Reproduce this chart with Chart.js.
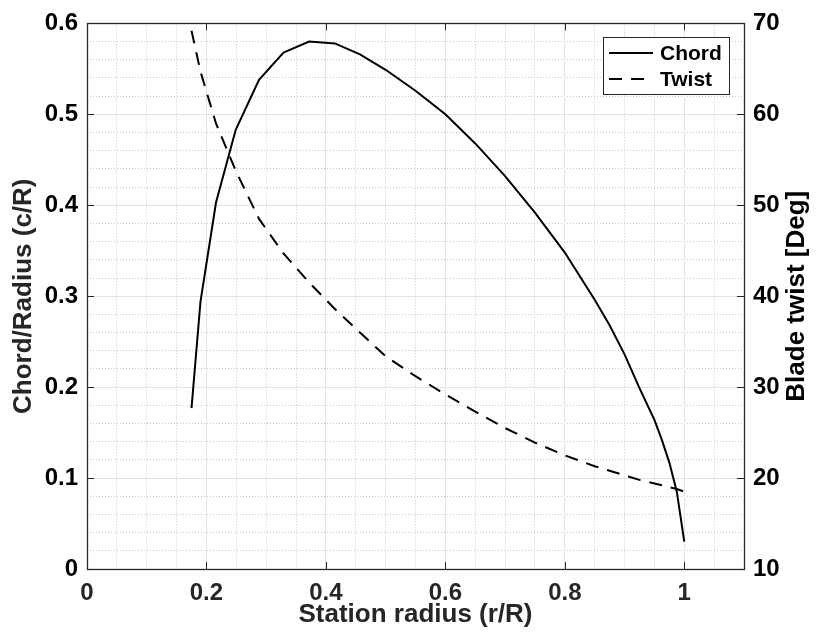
<!DOCTYPE html>
<html>
<head>
<meta charset="utf-8">
<script src="https://cdn.jsdelivr.net/npm/chart.js@4/dist/chart.umd.min.js"></script>
<style>
  html, body { margin: 0; padding: 0; background: #ffffff; }
  #wrap { width: 816px; height: 644px; }
</style>
</head>
<body>
<div id="wrap"><canvas id="c" width="816" height="644"></canvas></div>
<script>
// ---- data ----
const stationRadius = [0.175, 0.19, 0.216, 0.249, 0.288, 0.329, 0.372, 0.415, 0.457, 0.5, 0.55, 0.6, 0.65, 0.7, 0.75, 0.8, 0.85, 0.875, 0.9, 0.925, 0.95, 0.9625, 0.975, 0.9875, 1.0];
const chordOverRadius = [0.177, 0.294, 0.403, 0.483, 0.538, 0.568, 0.580, 0.578, 0.566, 0.549, 0.526, 0.500, 0.468, 0.432, 0.392, 0.348, 0.296, 0.268, 0.236, 0.199, 0.164, 0.142, 0.117, 0.085, 0.030];
const bladeTwistDeg = [69.2, 64.7, 59.0, 53.8, 48.5, 44.7, 41.5, 38.6, 36.0, 33.4, 31.2, 29.2, 27.3, 25.5, 23.9, 22.5, 21.3, 20.8, 20.3, 19.8, 19.4, 19.2, 19.0, 18.8, 18.5];
const seriesLabels = ["Chord", "Twist"];
const xTitle = "Station radius (r/R)";
const yLeftTitle = "Chord/Radius (c/R)";
const yRightTitle = "Blade twist [Deg]";

const FONT = "'Liberation Sans', Arial, Helvetica, sans-serif";
const AXIS_DARK = "#262626";
const MAJOR_GRID = "#e3e3e3";
const MINOR_GRID = "#c8c8c8";

function isMultiple(v, step) {
  const r = v / step;
  return Math.abs(r - Math.round(r)) < 1e-6;
}
const fmt = v => String(Math.round(v * 100) / 100);

const boxPlugin = {
  id: 'matlabBox',
  afterDatasetsDraw(chart) {
    const ctx = chart.ctx;
    const a = chart.chartArea;
    const sx = chart.scales.x, sy = chart.scales.y, sy2 = chart.scales.y2;
    const TL = 7;
    ctx.save();
    ctx.strokeStyle = AXIS_DARK;
    ctx.lineWidth = 1;
    ctx.setLineDash([]);
    // ticks pointing inward
    ctx.beginPath();
    sx.ticks.forEach(t => {
      const px = Math.round(sx.getPixelForValue(t.value)) + 0.5;
      ctx.moveTo(px, a.bottom); ctx.lineTo(px, a.bottom - TL);
      ctx.moveTo(px, a.top); ctx.lineTo(px, a.top + TL);
    });
    sy.ticks.forEach(t => {
      const py = Math.round(sy.getPixelForValue(t.value)) + 0.5;
      ctx.moveTo(a.left, py); ctx.lineTo(a.left + TL, py);
    });
    sy2.ticks.forEach(t => {
      const py = Math.round(sy2.getPixelForValue(t.value)) + 0.5;
      ctx.moveTo(a.right, py); ctx.lineTo(a.right - TL, py);
    });
    ctx.stroke();
    // box
    ctx.lineWidth = 1.3;
    ctx.strokeRect(Math.round(a.left) + 0.5, Math.round(a.top) + 0.5, Math.round(a.right - a.left), Math.round(a.bottom - a.top));

    // legend (inside, top right)
    const lx = 603, ly = 37, lw = 126, lh = 57;
    ctx.fillStyle = '#ffffff';
    ctx.fillRect(lx, ly, lw, lh);
    ctx.lineWidth = 1;
    ctx.strokeStyle = AXIS_DARK;
    ctx.strokeRect(lx + 0.5, ly + 0.5, lw, lh);
    const rows = [53, 79];
    chart.data.datasets.forEach((ds, i) => {
      const y = rows[i];
      ctx.beginPath();
      ctx.strokeStyle = ds.borderColor;
      ctx.lineWidth = ds.borderWidth;
      ctx.setLineDash(ds.borderDash || []);
      ctx.moveTo(609, y); ctx.lineTo(653, y);
      ctx.stroke();
      ctx.setLineDash([]);
      ctx.fillStyle = '#000000';
      ctx.font = "bold 21px " + FONT;
      ctx.textAlign = 'left';
      ctx.textBaseline = 'middle';
      ctx.fillText(ds.label, 660, y + 1);
    });

    // right axis title, reading bottom-to-top
    ctx.save();
    ctx.translate(797, (a.top + a.bottom) / 2);
    ctx.rotate(-Math.PI / 2);
    ctx.fillStyle = '#000000';
    ctx.font = "bold 26px " + FONT;
    ctx.textAlign = 'center';
    ctx.textBaseline = 'middle';
    ctx.fillText(yRightTitle, 0, 0);
    ctx.restore();
    ctx.restore();
  }
};

const tickFont = { family: FONT, size: 24, weight: 'bold' };
const titleFont = { family: FONT, size: 26, weight: 'bold' };

new Chart(document.getElementById('c'), {
  type: 'line',
  data: {
    datasets: [
      {
        label: seriesLabels[0],
        data: stationRadius.map((r, i) => ({ x: r, y: chordOverRadius[i] })),
        yAxisID: 'y',
        xAxisID: 'x',
        borderColor: '#000000',
        borderWidth: 2,
        pointRadius: 0,
        tension: 0,
        fill: false
      },
      {
        label: seriesLabels[1],
        data: stationRadius.map((r, i) => ({ x: r, y: bladeTwistDeg[i] })),
        yAxisID: 'y2',
        xAxisID: 'x',
        borderColor: '#000000',
        borderWidth: 2,
        borderDash: [13, 9],
        pointRadius: 0,
        tension: 0,
        fill: false
      }
    ]
  },
  options: {
    responsive: false,
    animation: false,
    layout: { padding: { top: 21, left: 0, right: 0, bottom: 0 } },
    plugins: { legend: { display: false }, tooltip: { enabled: false } },
    scales: {
      xMinor: {
        type: 'linear', position: 'bottom', min: 0, max: 1.1,
        ticks: { display: false, stepSize: 0.05 },
        grid: { drawTicks: false, lineWidth: 1,
          color: c => isMultiple(c.tick.value, 0.2) ? 'rgba(0,0,0,0)' : MINOR_GRID },
        border: { display: false, dash: [1, 2] }
      },
      yMinor: {
        type: 'linear', position: 'left', min: 0, max: 0.6,
        ticks: { display: false, stepSize: 0.02 },
        grid: { drawTicks: false, lineWidth: 1,
          color: c => isMultiple(c.tick.value, 0.1) ? 'rgba(0,0,0,0)' : MINOR_GRID },
        border: { display: false, dash: [1, 2] }
      },
      x: {
        type: 'linear', position: 'bottom', min: 0, max: 1.1,
        afterFit: s => { s.height = 75; },
        ticks: { stepSize: 0.2, includeBounds: false, padding: 10, color: '#262626', font: tickFont,
          maxRotation: 0, callback: v => fmt(v) },
        grid: { drawTicks: false, color: MAJOR_GRID, lineWidth: 1 },
        border: { display: false },
        title: { display: true, text: xTitle, color: '#262626', font: titleFont, padding: { top: 0, bottom: 14 } }
      },
      y: {
        type: 'linear', position: 'left', min: 0, max: 0.6,
        afterFit: s => { s.width = 87; },
        ticks: { stepSize: 0.1, padding: 9, color: '#000000', font: tickFont, callback: v => fmt(v) },
        grid: { drawTicks: false, color: MAJOR_GRID, lineWidth: 1 },
        border: { display: false },
        title: { display: true, text: yLeftTitle, color: '#262626', font: titleFont, padding: { top: 8, bottom: 0 } }
      },
      y2: {
        type: 'linear', position: 'right', min: 10, max: 70,
        afterFit: s => { s.width = 72; },
        ticks: { stepSize: 10, padding: 9, color: '#000000', font: tickFont, callback: v => fmt(v) },
        grid: { drawTicks: false, drawOnChartArea: false },
        border: { display: false }
      }
    }
  },
  plugins: [boxPlugin]
});
</script>
</body>
</html>
